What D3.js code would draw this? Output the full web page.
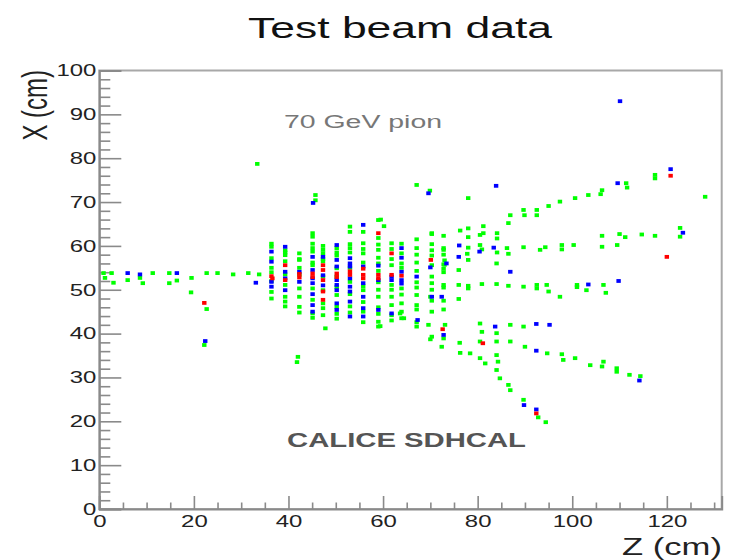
<!DOCTYPE html>
<html>
<head>
<meta charset="utf-8">
<script src="https://cdn.jsdelivr.net/npm/d3@7"></script>
<style>
  html, body { margin: 0; padding: 0; background: #fff; }
  svg { display: block; font-family: "Liberation Sans", Arial, sans-serif; }
</style>
</head>
<body>
<div id="chart"></div>
<script>
// ---------------- DATA (Z cm, X cm) ----------------
const titleText = "Test beam data";
const xAxisLabel = "Z (cm)";
const yAxisLabel = "X (cm)";
const beamLabel = "70 GeV pion";
const detLabel = "CALICE SDHCAL";
const xMajorTicks = [0, 20, 40, 60, 80, 100, 120];
const yMajorTicks = [0, 10, 20, 30, 40, 50, 60, 70, 80, 90, 100];

// Hits above threshold 1 (green), listed by layer column: [Z, [X...]]
const greenColumns = [
  [36.4, [60.5, 59.8, 57.2, 55.0, 54.0, 52.0, 49.5, 48.0]],
  [39.3, [59.0, 58.5, 57.9, 56.5, 53.5, 51.1, 48.4, 47.3, 46.2]],
  [42.3, [58.3, 57.0, 56.8, 55.0, 53.4, 50.3, 48.4, 46.1, 44.8]],
  [45.1, [62.9, 62.1, 60.5, 59.5, 58.7, 56.2, 55.6, 50.3, 47.7, 44.6, 43.6]],
  [47.3, [60.0, 59.1, 58.3, 57.0, 56.5, 53.0, 49.9, 46.9, 45.8, 44.2]],
  [50.2, [59.5, 58.5, 57.8, 54.9, 53.0, 50.6, 48.8, 46.1, 44.5, 43.4]],
  [53.0, [64.4, 63.2, 60.4, 59.5, 58.5, 55.0, 51.8, 49.0, 46.2, 44.8]],
  [55.8, [63.2, 60.6, 59.3, 58.3, 56.2, 50.8, 49.9, 47.2, 45.0, 42.6]],
  [59.0, [65.9, 61.8, 60.3, 59.1, 57.3, 56.0, 54.3, 51.7, 50.0, 48.4, 46.0, 44.5, 42.7, 41.6]],
  [61.8, [60.6, 59.3, 57.0, 55.6, 51.1, 50.0, 48.4, 46.5, 44.2, 43.0]],
  [63.9, [60.5, 58.3, 56.0, 55.0, 50.3, 48.9, 46.9, 45.0, 43.5]],
  [67.1, [61.5, 59.5, 58.0, 56.2, 54.3, 51.7, 50.5, 48.8, 46.5, 45.5, 42.6]],
  [70.3, [62.9, 60.4, 59.0, 57.8, 55.6, 53.0, 51.5, 50.0, 47.5, 45.0, 39.3]],
  [72.8, [59.1, 58.0, 55.8, 54.0, 50.5, 47.5, 45.5]]
];
const greenHits = [
  [0.9, 53.8], [2.6, 53.8], [1.2, 52.7], [3.0, 51.6], [6.0, 52.2], [8.6, 52.7], [9.2, 51.5],
  [11.3, 53.8], [14.8, 53.8], [16.4, 52.1], [14.8, 51.5], [19.5, 52.7], [19.4, 49.4],
  [22.7, 45.6], [22.2, 37.4], [22.7, 53.8], [25.0, 53.8], [28.3, 53.5], [31.5, 53.8], [33.8, 53.5],
  [33.4, 78.7], [45.7, 71.6], [45.7, 70.4], [42.0, 34.7], [41.8, 33.5], [47.8, 41.2], [59.4, 41.7],
  [59.5, 66.0], [60.2, 64.5], [63.6, 44.6], [64.4, 43.5], [67.1, 41.6],
  [67.1, 73.9], [69.9, 72.6], [78.0, 70.9], [86.9, 67.0], [86.5, 65.2], [89.7, 68.2], [89.9, 67.0],
  [92.5, 68.2], [92.5, 67.0], [95.0, 69.1], [97.4, 70.1], [100.6, 70.9], [103.4, 71.6], [106.3, 72.7],
  [106.0, 71.8], [111.4, 74.3], [111.6, 73.3], [117.5, 76.2], [117.5, 75.4], [128.1, 71.2],
  [122.8, 64.1], [122.8, 62.1], [106.3, 62.3], [110.0, 62.7], [111.2, 62.0], [114.7, 62.6], [117.5, 62.3],
  [106.3, 59.8], [109.5, 60.2], [100.3, 60.2], [97.8, 60.2], [97.8, 59.2], [94.3, 59.7], [93.2, 59.1],
  [89.7, 59.7], [86.2, 59.5], [86.5, 58.2], [84.0, 56.0], [81.2, 64.5], [81.2, 62.9], [84.1, 62.9],
  [84.1, 61.7], [80.5, 62.5], [78.0, 64.0], [76.3, 63.5], [78.0, 62.0], [72.8, 62.3], [70.3, 62.7],
  [78.0, 59.6], [77.8, 58.2], [78.0, 56.8], [80.5, 60.2], [80.9, 59.2], [84.1, 58.5], [72.8, 59.5],
  [73.0, 56.7], [73.0, 55.7], [72.8, 54.8], [76.0, 54.5],
  [72.8, 51.1], [76.0, 51.1], [78.0, 50.9], [78.0, 50.3], [80.9, 51.3], [84.0, 51.3], [86.5, 50.9],
  [89.7, 50.7], [92.5, 51.1], [92.5, 50.3], [94.6, 51.1], [95.0, 49.6], [97.4, 48.4], [101.0, 51.1],
  [101.0, 50.6], [103.0, 49.9], [106.6, 51.1], [107.1, 49.3], [70.0, 48.4], [76.0, 47.9],
  [69.6, 42.0], [73.1, 42.0], [80.5, 42.3], [80.9, 40.4], [80.5, 38.2], [84.0, 40.1], [84.0, 38.2],
  [86.9, 42.0], [86.9, 38.2], [89.7, 41.6], [90.0, 37.0], [70.0, 38.7], [72.8, 38.9], [72.4, 37.0],
  [76.2, 37.9], [76.3, 35.6], [78.4, 35.5], [80.5, 34.4], [81.6, 33.2], [84.0, 35.1], [84.3, 33.6],
  [84.0, 31.7], [84.7, 29.8], [86.5, 28.3], [86.9, 27.1], [89.7, 24.9], [92.8, 20.9], [94.4, 19.8],
  [94.7, 35.5], [97.8, 35.3], [98.1, 34.0], [100.6, 34.4], [103.8, 32.8], [106.6, 33.6], [106.3, 32.5],
  [109.4, 32.1], [109.4, 31.3], [112.1, 30.6], [114.4, 30.3]
];

// Hits above threshold 2 (blue)
const blueHits = [
  [6.0, 53.8], [8.6, 53.5], [16.4, 53.8], [22.4, 38.3], [33.1, 51.6],
  [36.4, 58.7], [36.4, 56.4], [36.4, 51.8], [36.4, 50.7],
  [39.3, 59.8], [39.3, 54.1], [39.3, 49.9], [39.3, 52.6],
  [42.3, 54.1], [42.3, 51.8],
  [45.2, 69.8], [45.1, 57.5], [45.1, 54.5], [45.1, 52.6], [45.1, 51.5], [45.1, 49.0], [45.1, 46.5], [45.1, 45.0],
  [47.3, 57.5], [47.3, 53.3], [47.3, 51.0],
  [50.2, 60.2], [50.2, 56.8], [50.2, 55.3], [50.2, 52.2], [50.2, 51.1], [50.2, 49.9], [50.2, 46.9], [50.2, 45.4],
  [53.0, 57.2], [53.0, 56.0], [53.0, 55.3], [53.0, 52.6], [53.0, 50.7], [53.0, 49.6], [53.0, 47.3], [53.0, 43.9],
  [55.8, 64.8], [55.8, 55.3], [55.8, 51.5], [55.8, 48.4], [55.8, 45.8], [55.8, 43.9],
  [59.0, 52.2], [59.0, 45.4], [59.0, 55.5],
  [61.8, 53.0], [61.8, 52.2], [61.8, 44.6],
  [63.9, 59.5], [63.9, 57.3], [63.9, 54.1], [63.9, 52.2], [63.9, 51.4],
  [67.1, 53.0], [67.3, 43.1],
  [70.3, 48.4], [70.0, 55.1], [69.6, 72.0],
  [72.4, 48.4], [73.4, 56.0], [72.8, 39.7],
  [76.1, 60.1], [76.0, 57.5], [80.4, 58.7], [83.4, 59.6], [83.9, 73.7], [86.9, 54.1], [83.7, 41.6],
  [92.4, 42.2], [95.2, 42.0], [92.4, 36.1], [89.8, 23.7], [92.4, 22.7], [103.4, 51.2], [109.8, 52.0],
  [109.6, 74.3], [110.1, 93.0], [120.8, 77.5], [123.4, 63.0], [114.2, 29.3]
];

// Hits above threshold 3 (red)
const redHits = [
  [22.2, 47.0], [36.4, 53.1], [36.6, 52.6], [39.3, 55.6], [39.3, 52.2], [42.3, 52.8], [42.3, 53.6],
  [45.1, 53.7], [45.1, 52.9],
  [47.3, 55.6], [47.3, 54.5], [47.3, 52.2], [47.3, 49.6], [47.3, 47.7], [50.2, 53.7], [50.2, 52.9],
  [53.0, 53.4], [53.0, 54.2],
  [55.8, 54.8], [55.8, 53.4], [55.8, 52.6], [59.0, 62.9], [59.0, 53.4], [59.0, 52.6], [61.8, 58.3],
  [61.8, 53.4], [63.9, 53.2], [70.1, 56.8], [72.6, 41.0], [81.1, 37.8], [92.4, 21.8], [120.0, 57.5], [120.8, 76.0]
];

// ---------------- DRAWING ----------------
const W = 729, H = 560;
const svg = d3.select("#chart").append("svg").attr("width", W).attr("height", H);

const x = d3.scaleLinear().domain([0, 131.6]).range([99.3, 721.7]);
const y = d3.scaleLinear().domain([0, 100]).range([509, 70.5]);

const STRETCH = 1.45;
function stretch(sel, k) {
  sel.each(function () {
    const len = this.getComputedTextLength();
    d3.select(this).attr("textLength", len * k).attr("lengthAdjust", "spacingAndGlyphs");
  });
}

const defs = svg.append("defs");
defs.append("filter").attr("id", "soft").attr("x", "-50%").attr("y", "-50%").attr("width", "200%").attr("height", "200%")
  .append("feGaussianBlur").attr("stdDeviation", 0.6);

// frame
svg.append("rect")
  .attr("x", x.range()[0]).attr("y", y.range()[1])
  .attr("width", x.range()[1] - x.range()[0]).attr("height", y.range()[0] - y.range()[1])
  .attr("fill", "none").attr("stroke", "#a8a8a8").attr("stroke-width", 2);

// axes
const gx = svg.append("g").attr("transform", `translate(0,${y.range()[0]})`);
const xMinor = d3.range(0, 131, 5).filter(v => v % 20 !== 0);
gx.append("g").call(d3.axisBottom(x).tickValues(xMinor).tickSize(-6.5).tickFormat(""))
  .call(g => g.select(".domain").remove());
gx.append("g").call(d3.axisBottom(x).tickValues(xMajorTicks).tickSize(-13).tickPadding(6).tickFormat(d3.format("d")))
  .call(g => g.select(".domain").attr("stroke", "#8a8a8a").attr("stroke-width", 2));
gx.selectAll(".tick line").attr("stroke", "#8a8a8a").attr("stroke-width", 1.6);

const gy = svg.append("g").attr("transform", `translate(${x.range()[0]},0)`);
const yMinor = d3.range(0, 101, 2).filter(v => v % 10 !== 0);
gy.append("g").call(d3.axisLeft(y).tickValues(yMinor).tickSize(-11).tickFormat(""))
  .call(g => g.select(".domain").remove());
gy.append("g").call(d3.axisLeft(y).tickValues(yMajorTicks).tickSize(-22).tickPadding(3).tickFormat(d3.format("d")))
  .call(g => g.select(".domain").attr("stroke", "#8a8a8a").attr("stroke-width", 2));
gy.selectAll(".tick line").attr("stroke", "#8a8a8a").attr("stroke-width", 1.6);

svg.selectAll(".tick text")
  .attr("font-family", "Liberation Sans, Arial, sans-serif")
  .attr("font-size", 16.5).attr("fill", "#222");
stretch(svg.selectAll(".tick text"), STRETCH);

// hits
const greenAll = greenColumns.flatMap(([z, xs]) => xs.map(v => [z, v])).concat(greenHits);
const hitLayer = svg.append("g").attr("filter", "url(#soft)");
function drawHits(data, color) {
  hitLayer.append("g").selectAll("rect").data(data).join("rect")
    .attr("x", d => x(d[0]) - 2.2).attr("y", d => y(d[1]) - 1.9)
    .attr("width", 4.4).attr("height", 3.8).attr("fill", color);
}
drawHits(greenAll, "#00ff00");
drawHits(blueHits, "#0000ff");
drawHits(redHits, "#ff0000");

// texts
svg.append("text").attr("x", 400).attr("y", 38).attr("text-anchor", "middle")
  .attr("font-size", 30).attr("fill", "#111").text(titleText)
  .attr("textLength", 304).attr("lengthAdjust", "spacingAndGlyphs");

svg.append("text").attr("x", 284).attr("y", 128)
  .attr("font-size", 18).attr("fill", "#777").text(beamLabel)
  .attr("textLength", 158).attr("lengthAdjust", "spacingAndGlyphs");

svg.append("text").attr("x", 287).attr("y", 447)
  .attr("font-size", 20).attr("font-weight", "bold").attr("fill", "#555").text(detLabel)
  .attr("textLength", 239).attr("lengthAdjust", "spacingAndGlyphs");

svg.append("text").attr("x", 722).attr("y", 555).attr("text-anchor", "end")
  .attr("font-size", 23).attr("fill", "#222").text(xAxisLabel)
  .attr("textLength", 100).attr("lengthAdjust", "spacingAndGlyphs");

svg.append("text").attr("text-anchor", "end")
  .attr("font-size", 24).attr("fill", "#222").text(yAxisLabel)
  .attr("transform", "translate(47,70) scale(1.45,1) rotate(-90)");
</script>
</body>
</html>
